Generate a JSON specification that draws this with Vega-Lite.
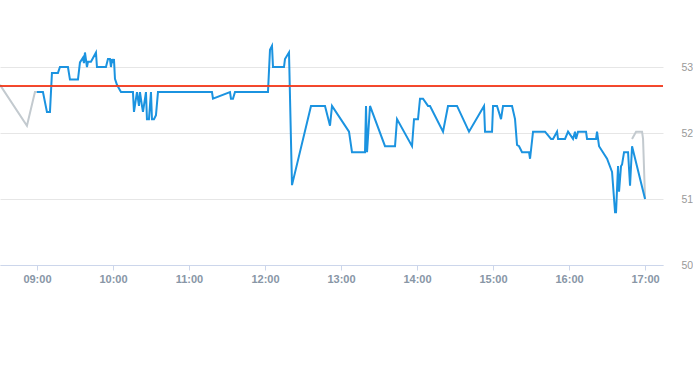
{
  "$schema": "https://vega.github.io/schema/vega-lite/v6.json",
  "width": 663,
  "height": 264,
  "autosize": "none",
  "padding": {"left": 0, "top": 1, "right": 30, "bottom": 100},
  "config": {"view": {"stroke": "transparent"}},
  "data": {"values": [
      {"s": "ext_pre", "t": "2024-01-01T08:30:50Z", "v": 52.73},
      {"s": "ext_pre", "t": "2024-01-01T08:52:06Z", "v": 52.11},
      {"s": "ext_pre", "t": "2024-01-01T08:58:25Z", "v": 52.62},
      {"s": "ext_pre", "t": "2024-01-01T09:00:00Z", "v": 52.62},
      {"s": "ext_post", "t": "2024-01-01T16:49:44Z", "v": 51.91},
      {"s": "ext_post", "t": "2024-01-01T16:52:54Z", "v": 52.02},
      {"s": "ext_post", "t": "2024-01-01T16:57:38Z", "v": 52.02},
      {"s": "ext_post", "t": "2024-01-01T16:58:25Z", "v": 51.91},
      {"s": "ext_post", "t": "2024-01-01T17:00:00Z", "v": 51.0},
      {"s": "main", "t": "2024-01-01T09:00:00Z", "v": 52.62},
      {"s": "main", "t": "2024-01-01T09:04:44Z", "v": 52.62},
      {"s": "main", "t": "2024-01-01T09:07:54Z", "v": 52.32},
      {"s": "main", "t": "2024-01-01T09:10:16Z", "v": 52.32},
      {"s": "main", "t": "2024-01-01T09:11:50Z", "v": 52.91},
      {"s": "main", "t": "2024-01-01T09:16:35Z", "v": 52.91},
      {"s": "main", "t": "2024-01-01T09:18:09Z", "v": 53.0},
      {"s": "main", "t": "2024-01-01T09:24:28Z", "v": 53.0},
      {"s": "main", "t": "2024-01-01T09:26:03Z", "v": 52.81},
      {"s": "main", "t": "2024-01-01T09:32:22Z", "v": 52.81},
      {"s": "main", "t": "2024-01-01T09:33:57Z", "v": 53.07},
      {"s": "main", "t": "2024-01-01T09:36:19Z", "v": 53.14},
      {"s": "main", "t": "2024-01-01T09:37:06Z", "v": 53.06},
      {"s": "main", "t": "2024-01-01T09:37:54Z", "v": 53.22},
      {"s": "main", "t": "2024-01-01T09:39:28Z", "v": 53.0},
      {"s": "main", "t": "2024-01-01T09:40:16Z", "v": 53.08},
      {"s": "main", "t": "2024-01-01T09:42:38Z", "v": 53.08},
      {"s": "main", "t": "2024-01-01T09:46:35Z", "v": 53.22},
      {"s": "main", "t": "2024-01-01T09:47:22Z", "v": 53.0},
      {"s": "main", "t": "2024-01-01T09:54:28Z", "v": 53.0},
      {"s": "main", "t": "2024-01-01T09:56:03Z", "v": 53.12},
      {"s": "main", "t": "2024-01-01T09:57:38Z", "v": 53.12},
      {"s": "main", "t": "2024-01-01T09:58:25Z", "v": 53.0},
      {"s": "main", "t": "2024-01-01T09:59:13Z", "v": 53.12},
      {"s": "main", "t": "2024-01-01T10:00:00Z", "v": 53.06},
      {"s": "main", "t": "2024-01-01T10:00:47Z", "v": 53.12},
      {"s": "main", "t": "2024-01-01T10:01:35Z", "v": 52.82},
      {"s": "main", "t": "2024-01-01T10:03:09Z", "v": 52.73},
      {"s": "main", "t": "2024-01-01T10:06:19Z", "v": 52.62},
      {"s": "main", "t": "2024-01-01T10:15:47Z", "v": 52.62},
      {"s": "main", "t": "2024-01-01T10:16:35Z", "v": 52.32},
      {"s": "main", "t": "2024-01-01T10:18:57Z", "v": 52.62},
      {"s": "main", "t": "2024-01-01T10:20:32Z", "v": 52.41},
      {"s": "main", "t": "2024-01-01T10:21:19Z", "v": 52.62},
      {"s": "main", "t": "2024-01-01T10:22:54Z", "v": 52.41},
      {"s": "main", "t": "2024-01-01T10:23:41Z", "v": 52.32},
      {"s": "main", "t": "2024-01-01T10:26:03Z", "v": 52.62},
      {"s": "main", "t": "2024-01-01T10:26:50Z", "v": 52.21},
      {"s": "main", "t": "2024-01-01T10:28:25Z", "v": 52.21},
      {"s": "main", "t": "2024-01-01T10:30:00Z", "v": 52.62},
      {"s": "main", "t": "2024-01-01T10:30:47Z", "v": 52.21},
      {"s": "main", "t": "2024-01-01T10:32:22Z", "v": 52.21},
      {"s": "main", "t": "2024-01-01T10:33:57Z", "v": 52.27},
      {"s": "main", "t": "2024-01-01T10:35:32Z", "v": 52.62},
      {"s": "main", "t": "2024-01-01T11:18:09Z", "v": 52.62},
      {"s": "main", "t": "2024-01-01T11:18:57Z", "v": 52.52},
      {"s": "main", "t": "2024-01-01T11:32:22Z", "v": 52.62},
      {"s": "main", "t": "2024-01-01T11:33:09Z", "v": 52.52},
      {"s": "main", "t": "2024-01-01T11:34:44Z", "v": 52.52},
      {"s": "main", "t": "2024-01-01T11:36:19Z", "v": 52.62},
      {"s": "main", "t": "2024-01-01T12:02:22Z", "v": 52.62},
      {"s": "main", "t": "2024-01-01T12:03:57Z", "v": 53.26},
      {"s": "main", "t": "2024-01-01T12:05:32Z", "v": 53.32},
      {"s": "main", "t": "2024-01-01T12:06:19Z", "v": 53.0},
      {"s": "main", "t": "2024-01-01T12:15:00Z", "v": 53.0},
      {"s": "main", "t": "2024-01-01T12:15:47Z", "v": 53.12},
      {"s": "main", "t": "2024-01-01T12:18:57Z", "v": 53.22},
      {"s": "main", "t": "2024-01-01T12:21:19Z", "v": 51.21},
      {"s": "main", "t": "2024-01-01T12:36:19Z", "v": 52.41},
      {"s": "main", "t": "2024-01-01T12:47:22Z", "v": 52.41},
      {"s": "main", "t": "2024-01-01T12:51:19Z", "v": 52.11},
      {"s": "main", "t": "2024-01-01T12:52:54Z", "v": 52.41},
      {"s": "main", "t": "2024-01-01T13:06:19Z", "v": 52.02},
      {"s": "main", "t": "2024-01-01T13:08:41Z", "v": 51.71},
      {"s": "main", "t": "2024-01-01T13:18:57Z", "v": 51.71},
      {"s": "main", "t": "2024-01-01T13:19:45Z", "v": 52.41},
      {"s": "main", "t": "2024-01-01T13:20:32Z", "v": 51.71},
      {"s": "main", "t": "2024-01-01T13:22:54Z", "v": 52.41},
      {"s": "main", "t": "2024-01-01T13:34:44Z", "v": 51.8},
      {"s": "main", "t": "2024-01-01T13:42:38Z", "v": 51.8},
      {"s": "main", "t": "2024-01-01T13:44:13Z", "v": 52.21},
      {"s": "main", "t": "2024-01-01T13:56:03Z", "v": 51.8},
      {"s": "main", "t": "2024-01-01T13:57:38Z", "v": 52.21},
      {"s": "main", "t": "2024-01-01T14:00:47Z", "v": 52.21},
      {"s": "main", "t": "2024-01-01T14:02:22Z", "v": 52.52},
      {"s": "main", "t": "2024-01-01T14:04:44Z", "v": 52.52},
      {"s": "main", "t": "2024-01-01T14:08:41Z", "v": 52.41},
      {"s": "main", "t": "2024-01-01T14:10:16Z", "v": 52.41},
      {"s": "main", "t": "2024-01-01T14:20:32Z", "v": 52.02},
      {"s": "main", "t": "2024-01-01T14:24:28Z", "v": 52.41},
      {"s": "main", "t": "2024-01-01T14:31:35Z", "v": 52.41},
      {"s": "main", "t": "2024-01-01T14:41:03Z", "v": 52.02},
      {"s": "main", "t": "2024-01-01T14:52:54Z", "v": 52.41},
      {"s": "main", "t": "2024-01-01T14:53:41Z", "v": 52.02},
      {"s": "main", "t": "2024-01-01T14:59:13Z", "v": 52.02},
      {"s": "main", "t": "2024-01-01T15:00:00Z", "v": 52.41},
      {"s": "main", "t": "2024-01-01T15:03:09Z", "v": 52.41},
      {"s": "main", "t": "2024-01-01T15:06:19Z", "v": 52.21},
      {"s": "main", "t": "2024-01-01T15:07:54Z", "v": 52.41},
      {"s": "main", "t": "2024-01-01T15:15:00Z", "v": 52.41},
      {"s": "main", "t": "2024-01-01T15:17:22Z", "v": 52.21},
      {"s": "main", "t": "2024-01-01T15:18:57Z", "v": 51.82},
      {"s": "main", "t": "2024-01-01T15:20:32Z", "v": 51.8},
      {"s": "main", "t": "2024-01-01T15:22:54Z", "v": 51.71},
      {"s": "main", "t": "2024-01-01T15:28:25Z", "v": 51.71},
      {"s": "main", "t": "2024-01-01T15:29:13Z", "v": 51.61},
      {"s": "main", "t": "2024-01-01T15:31:35Z", "v": 52.02},
      {"s": "main", "t": "2024-01-01T15:41:03Z", "v": 52.02},
      {"s": "main", "t": "2024-01-01T15:45:47Z", "v": 51.91},
      {"s": "main", "t": "2024-01-01T15:47:22Z", "v": 51.91},
      {"s": "main", "t": "2024-01-01T15:50:32Z", "v": 52.02},
      {"s": "main", "t": "2024-01-01T15:51:19Z", "v": 51.91},
      {"s": "main", "t": "2024-01-01T15:56:50Z", "v": 51.91},
      {"s": "main", "t": "2024-01-01T15:59:13Z", "v": 52.02},
      {"s": "main", "t": "2024-01-01T16:03:09Z", "v": 51.91},
      {"s": "main", "t": "2024-01-01T16:04:44Z", "v": 52.02},
      {"s": "main", "t": "2024-01-01T16:05:32Z", "v": 51.91},
      {"s": "main", "t": "2024-01-01T16:07:06Z", "v": 52.02},
      {"s": "main", "t": "2024-01-01T16:13:25Z", "v": 52.02},
      {"s": "main", "t": "2024-01-01T16:14:13Z", "v": 51.91},
      {"s": "main", "t": "2024-01-01T16:21:19Z", "v": 51.91},
      {"s": "main", "t": "2024-01-01T16:22:06Z", "v": 52.02},
      {"s": "main", "t": "2024-01-01T16:23:41Z", "v": 51.8},
      {"s": "main", "t": "2024-01-01T16:30:00Z", "v": 51.61},
      {"s": "main", "t": "2024-01-01T16:33:57Z", "v": 51.41},
      {"s": "main", "t": "2024-01-01T16:36:19Z", "v": 50.8},
      {"s": "main", "t": "2024-01-01T16:37:06Z", "v": 50.8},
      {"s": "main", "t": "2024-01-01T16:38:41Z", "v": 51.5},
      {"s": "main", "t": "2024-01-01T16:39:28Z", "v": 51.11},
      {"s": "main", "t": "2024-01-01T16:41:03Z", "v": 51.5},
      {"s": "main", "t": "2024-01-01T16:41:50Z", "v": 51.52},
      {"s": "main", "t": "2024-01-01T16:43:25Z", "v": 51.71},
      {"s": "main", "t": "2024-01-01T16:46:35Z", "v": 51.71},
      {"s": "main", "t": "2024-01-01T16:48:09Z", "v": 51.2},
      {"s": "main", "t": "2024-01-01T16:49:44Z", "v": 51.8},
      {"s": "main", "t": "2024-01-01T17:00:00Z", "v": 51.0}
  ]},
  "layer": [
    {
      "mark": {"type": "line", "strokeWidth": 2},
      "encoding": {
        "x": {
          "field": "t",
          "type": "temporal",
          "title": null,
          "scale": {"type": "utc", "domain": [1704097850000, 1704129250000]},
          "axis": {
            "format": "%H:%M",
            "tickCount": 9,
            "grid": false,
            "domainColor": "#ccd6eb",
            "tickColor": "#ccd6eb",
            "tickSize": 5,
            "labelFont": "Liberation Sans",
            "labelFontSize": 11,
            "labelFontWeight": "bold",
            "labelColor": "#8896a6",
            "labelPadding": 3
          }
        },
        "y": {
          "field": "v",
          "type": "quantitative",
          "title": null,
          "scale": {"domain": [50, 54], "zero": false, "nice": false},
          "axis": {
            "orient": "right",
            "values": [50, 51, 52, 53],
            "format": "d",
            "domain": false,
            "ticks": false,
            "gridColor": "#e6e6e6",
            "labelFont": "Liberation Sans",
            "labelFontSize": 10.5,
            "labelColor": "#999999",
            "labelPadding": 18
          }
        },
        "color": {
          "field": "s",
          "type": "nominal",
          "legend": null,
          "scale": {"domain": ["ext_pre", "ext_post", "main"], "range": ["#c3cacf", "#c3cacf", "#1b93e0"]}
        },
        "order": {"field": "t", "type": "temporal"}
      }
    },
    {
      "mark": {"type": "rule", "color": "#e4473b", "strokeWidth": 1},
      "encoding": {
        "y": {"datum": 52.705}
      }
    }
  ]
}
